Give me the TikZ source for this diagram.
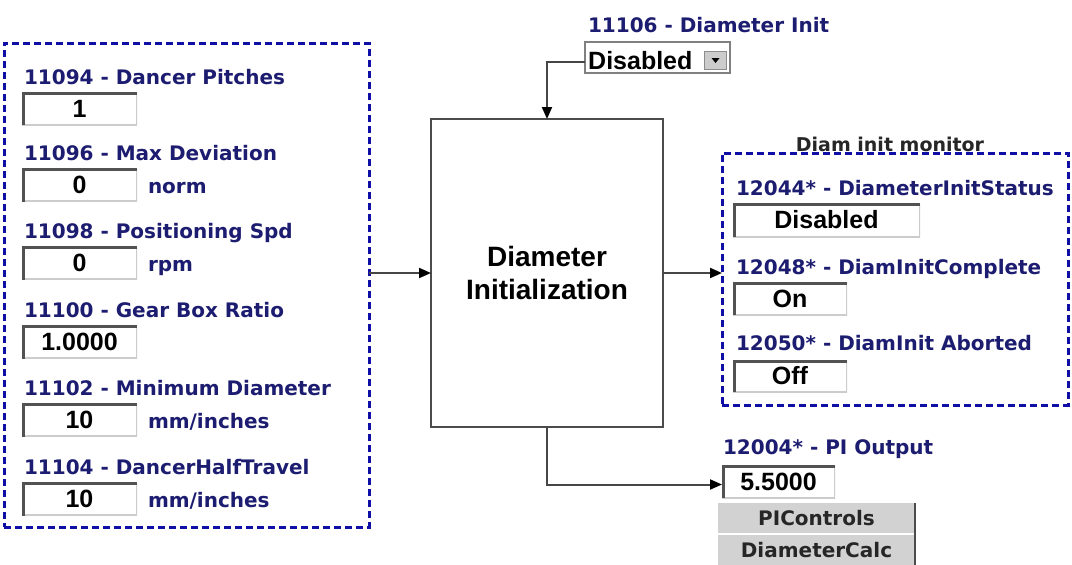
\documentclass[tikz,border=0pt]{standalone}
\usepackage{fontspec}
\usetikzlibrary{arrows.meta}
\newfontfamily\dvs{DejaVu Sans}
\newfontfamily\lbs{Liberation Sans}
\definecolor{navylab}{RGB}{28,28,112}
\definecolor{dashblue}{RGB}{15,15,165}
\definecolor{connc}{RGB}{70,70,70}
\definecolor{btngray}{RGB}{210,210,210}
\tikzset{
  lab/.style={anchor=west, inner sep=0pt, outer sep=0pt, text=navylab,
    font=\dvs\bfseries\fontsize{20}{24}\selectfont, text height=14.6pt, text depth=0pt},
  unit/.style={lab},
  field/.style={fill=white, inner sep=0pt, outer sep=0pt,
    font=\lbs\bfseries\fontsize{25}{28}\selectfont, text height=17.9pt, text depth=0pt,
    path picture={
      \draw[line width=2.4pt, black!20] (path picture bounding box.south west) -- (path picture bounding box.south east) -- (path picture bounding box.north east);
      \draw[line width=5pt, black!68] (path picture bounding box.south west) -- (path picture bounding box.north west) -- (path picture bounding box.north east);
    }},
  grp/.style={draw=dashblue, line width=3pt, dash pattern=on 7pt off 4pt, inner sep=0pt, outer sep=0pt},
  conn/.style={draw=connc, line width=2pt, -{Triangle[length=12pt,width=10pt,fill=black,color=black]}},
  btn/.style={fill=btngray, inner sep=0pt, outer sep=0pt, text=black!85,
    font=\dvs\bfseries\fontsize{20}{24}\selectfont, text height=14.6pt, text depth=0pt},
}
\begin{document}
\begin{tikzpicture}[x=1pt,y=-1pt]
\useasboundingbox (0,0) rectangle (1072,565);
\fill[white] (0,0) rectangle (1072,565);

% left group
\node[grp, minimum width=365pt, minimum height=484pt] (leftgrp) at (186.5,285) {};
\node[lab] (l1) at (24,77) {11094 - Dancer Pitches};
\node[field, minimum width=115pt, minimum height=33pt] (f1) at (79.5,108.5) {1};
\node[lab] (l2) at (24,153) {11096 - Max Deviation};
\node[field, minimum width=115pt, minimum height=33pt] (f2) at (79.5,185) {0};
\node[unit] (u2) at (148,186) {norm};
\node[lab] (l3) at (24,231) {11098 - Positioning Spd};
\node[field, minimum width=115pt, minimum height=33pt] (f3) at (79.5,263) {0};
\node[unit] (u3) at (148,264) {rpm};
\node[lab] (l4) at (24,310) {11100 - Gear Box Ratio};
\node[field, minimum width=115pt, minimum height=33pt] (f4) at (79.5,342) {1.0000};
\node[lab] (l5) at (24,388) {11102 - Minimum Diameter};
\node[field, minimum width=115pt, minimum height=33pt] (f5) at (79.5,420) {10};
\node[unit] (u5) at (148,421) {mm/inches};
\node[lab] (l6) at (24,467) {11104 - DancerHalfTravel};
\node[field, minimum width=115pt, minimum height=33pt] (f6) at (79.5,499) {10};
\node[unit] (u6) at (148,500) {mm/inches};

% core
\node[draw=black!70, line width=2pt, fill=white, minimum width=232pt, minimum height=308pt, inner sep=0pt, outer sep=0pt,
  align=center, font=\lbs\bfseries\fontsize{28}{33}\selectfont] (core) at (547,273) {Diameter\\Initialization};

% top dropdown
\node[lab] (l7) at (588,25) {11106 - Diameter Init};
\node[draw=black!50, line width=2pt, fill=white, minimum width=145pt, minimum height=31pt, inner sep=0pt, outer sep=0pt] (dd) at (657.5,57.5) {};
\node[anchor=west, inner sep=0pt, font=\lbs\bfseries\fontsize{25}{28}\selectfont, text height=17.9pt, text depth=0pt] (ddtext) at (588,61) {Disabled};
\node[fill=black!20, draw=black!45, line width=0.8pt, minimum width=22pt, minimum height=18pt, inner sep=0pt] (ddbtn) at (715.5,60) {};
\fill[black] (711.5,58) -- (719.5,58) -- (715.5,63) -- cycle;

% right group
\node[grp, minimum width=346pt, minimum height=252pt] (rightgrp) at (895,279) {};
\node[anchor=south, inner sep=0pt, text=black!85, font=\dvs\bfseries\fontsize{19}{23}\selectfont] (mon) at (890,152) {Diam init monitor};
\node[lab] (r1) at (736,188) {12044* - DiameterInitStatus};
\node[field, minimum width=187pt, minimum height=34pt] (g1) at (826.5,220) {Disabled};
\node[lab] (r2) at (736,267) {12048* - DiamInitComplete};
\node[field, minimum width=114pt, minimum height=33pt] (g2) at (790,298.5) {On};
\node[lab] (r3) at (736,343) {12050* - DiamInit Aborted};
\node[field, minimum width=114pt, minimum height=32pt] (g3) at (790,376) {Off};

% PI output
\node[lab] (r4) at (723,447) {12004* - PI Output};
\node[field, minimum width=113pt, minimum height=33pt] (pi) at (778.5,481.5) {5.5000};
\node[btn, minimum width=197pt, minimum height=31pt] (b1) at (816.5,518.5) {PIControls};
\node[btn, minimum width=197pt, minimum height=31pt] (b2) at (816.5,550.5) {DiameterCalc};
\draw[white, line width=1.5pt] (b1.south west) -- (b1.south east);
\draw[black!70, line width=2.5pt] (b1.north east) -- (b2.south east);

% connectors
\draw[conn] (leftgrp.east |- core.west) -- (core.west);
\draw[conn] (core.east) -- (core.east -| rightgrp.west);
\draw[conn] ([yshift=-4pt]dd.west) -| (core.north);
\draw[conn] (core.south) |- ([yshift=-3pt]pi.west);
\end{tikzpicture}
\end{document}
